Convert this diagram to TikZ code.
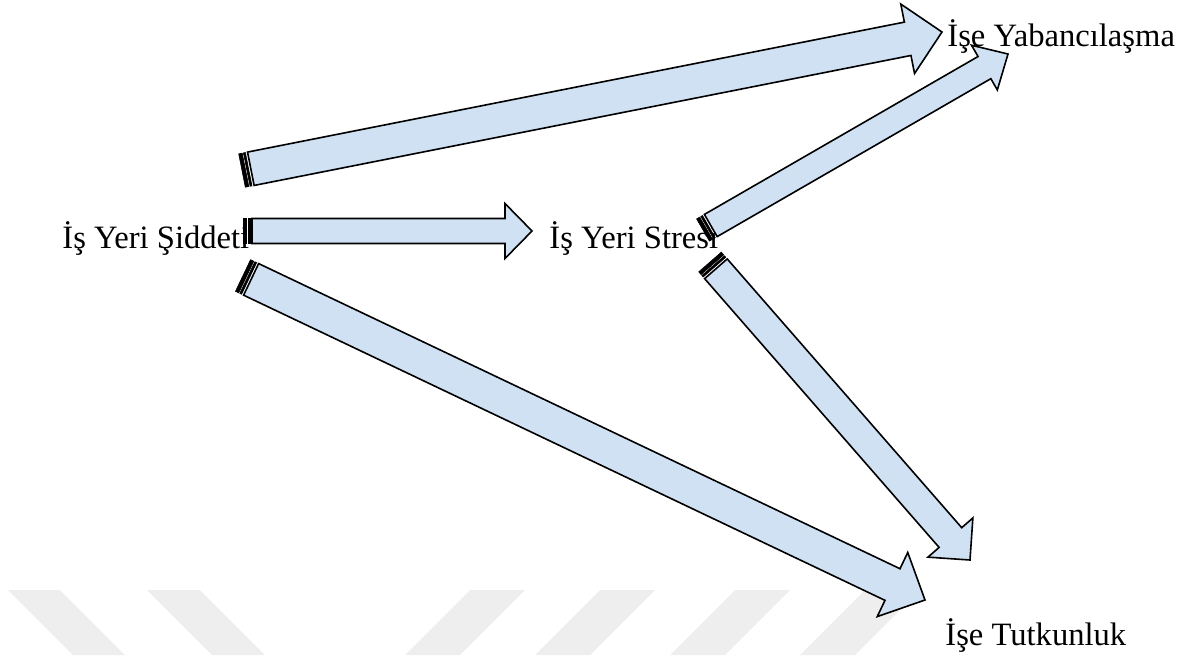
\documentclass[tikz,border=0pt]{standalone}
\usepackage{fontspec}
\setmainfont{Liberation Serif}
\usetikzlibrary{calc}

\definecolor{arrowblue}{RGB}{207,225,242}
\definecolor{markgray}{RGB}{238,238,238}

\tikzset{
  factor/.style={anchor=base west, inner sep=0pt, font=\fontsize{16.3}{19}\selectfont},
  arrowbody/.style={fill=arrowblue, draw=black, line width=0.8pt, line join=miter},
  stripe/.style={fill=black, draw=black, line width=0.3pt}
}

% striped block arrow: tail, tip, half shaft, half head, head length
\newcommand\stripedarrow[5]{%
  \coordinate (sa-b) at ($(#2)!#5!(#1)$);
  \coordinate (sa-p) at ($(#1)!1.8pt!(#2)$);
  \coordinate (sa-q) at ($(#1)!2.4pt!(#2)$);
  \coordinate (sa-r) at ($(#1)!3.4pt!(#2)$);
  \coordinate (sa-s) at ($(#1)!4.5pt!(#2)$);
  \filldraw[stripe] ($(#1)!#3!90:(#2)$) -- ($(#1)!#3!-90:(#2)$) -- ($(sa-p)!#3!-90:(#2)$) -- ($(sa-p)!#3!90:(#2)$) -- cycle;
  \filldraw[stripe] ($(sa-q)!#3!90:(#2)$) -- ($(sa-q)!#3!-90:(#2)$) -- ($(sa-r)!#3!-90:(#2)$) -- ($(sa-r)!#3!90:(#2)$) -- cycle;
  \filldraw[arrowbody] ($(sa-s)!#3!90:(#2)$) -- ($(sa-b)!#3!90:(#2)$) -- ($(sa-b)!#4!90:(#2)$) -- (#2)
    -- ($(sa-b)!#4!-90:(#2)$) -- ($(sa-b)!#3!-90:(#2)$) -- ($(sa-s)!#3!-90:(#2)$) -- cycle;
}

\begin{document}
\begin{tikzpicture}[x=0.5pt,y=-0.5pt]

\useasboundingbox (0,0) rectangle (1190,655);

% watermark
\foreach \a/\b in {8/60,147/200}
    \fill[markgray] (\a,590) -- (\b,590) -- (\b+65,655) -- (\a+65,655) -- cycle;
\foreach \a/\b in {470/525,600/655,735/790,865/920}
    \fill[markgray] (\a,590) -- (\b,590) -- (\b-65,655) -- (\a-65,655) -- cycle;

\node[factor] (siddet) at (62,248) {İş Yeri Şiddeti};
\node[factor] (stres) at (549,248) {İş Yeri Stresi};
\node[factor] (yabanci) at (947,46) {İşe Yabancılaşma};
\node[factor] (tutku) at (945,645) {İşe Tutkunluk};

\coordinate (siddet-a1) at (242,170.5);
\coordinate (yabanci-a1) at (942,32);
\coordinate (siddet-a2) at (243,231);
\coordinate (stres-a2) at (532,231);
\coordinate (siddet-a3) at (243,275.5);
\coordinate (tutku-a3) at (925,600);
\coordinate (stres-a4) at (703,230);
\coordinate (yabanci-a4) at (1008,54);
\coordinate (stres-a5) at (710,262);
\coordinate (tutku-a5) at (970,560);

\stripedarrow{siddet-a1}{yabanci-a1}{8.5pt}{17.7pt}{17.5pt}
\stripedarrow{siddet-a2}{stres-a2}{6.25pt}{13.75pt}{13.5pt}
\stripedarrow{siddet-a3}{tutku-a3}{8.75pt}{17.75pt}{18pt}
\stripedarrow{stres-a4}{yabanci-a4}{6.4pt}{12.9pt}{13.6pt}
\stripedarrow{stres-a5}{tutku-a5}{7.5pt}{14.9pt}{14.9pt}

\end{tikzpicture}
\end{document}
